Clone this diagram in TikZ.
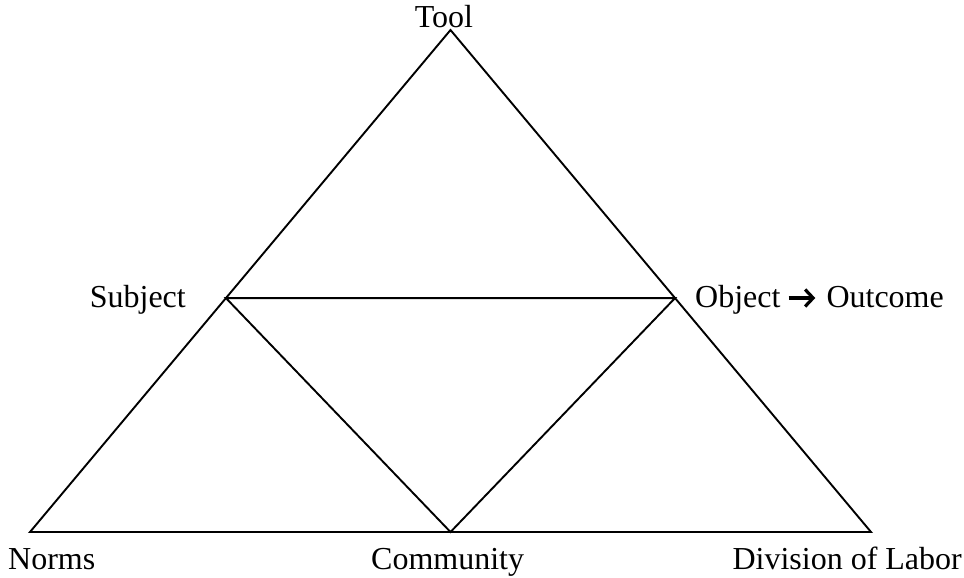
\documentclass[tikz,border=0pt]{standalone}
\usepackage{fontspec}
\setmainfont{Liberation Serif}
\usetikzlibrary{arrows.meta,calc}
\begin{document}
\begin{tikzpicture}[x=1pt,y=-1pt,
  edge/.style={line width=1.9pt, line join=miter},
  lbl/.style={inner sep=0pt, font=\fontsize{32}{36}\selectfont},
  chev/.style={line width=3.2pt, -{Straight Barb[length=8pt,width=17pt]}}]
  \useasboundingbox (0,0) rectangle (964,578);
  % outer triangle corners
  \coordinate (tool) at (450.5,30);
  \coordinate (norms) at (30,532);
  \coordinate (labor) at (871,532);
  % points on the sides and base
  \coordinate (subj) at ($(tool)!0.534!(norms)$);
  \coordinate (obj) at ($(tool)!0.534!(labor)$);
  \coordinate (comm) at ($(norms)!0.5!(labor)$);
  \draw[edge] (tool) -- (norms) -- (labor) -- cycle;
  \draw[edge] (subj) -- (obj) -- (comm) -- cycle;
  % labels
  \node[lbl, anchor=base] (tooltxt) at (444,28) {Tool};
  \node[lbl, anchor=base east] (subjtxt) at (186,307) {Subject};
  \node[lbl, anchor=base west] (objtxt) at (695,307) {Object};
  \node[lbl, anchor=base east] (outtxt) at (944,307) {Outcome};
  \node[lbl, anchor=base west] (normtxt) at (8,569) {Norms};
  \node[lbl, anchor=base west] (commtxt) at (371,569) {Community};
  \node[lbl, anchor=base east] (labortxt) at (962,569) {Division of Labor};
  \draw[chev] ([shift={(8pt,9pt)}]objtxt.base east) -- ([shift={(-11pt,9pt)}]outtxt.base west);
\end{tikzpicture}
\end{document}
